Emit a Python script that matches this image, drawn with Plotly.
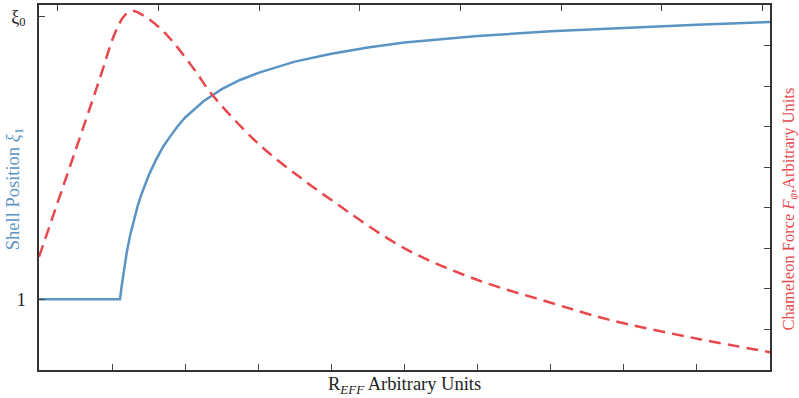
import plotly.graph_objects as go

# Blue curve: shell position (left axis, bottom x axis)
blue_x = [0, 1.108, 1.13, 1.16, 1.2, 1.25, 1.3, 1.35, 1.4, 1.5, 1.6, 1.7, 1.8, 1.9, 2.0, 2.25, 2.5, 2.75, 3.0, 3.5, 4.0, 4.5, 5.0, 6.0, 7.0, 8.0, 9.0, 10.0]
blue_y = [1, 1, 1.18, 1.42, 1.66, 1.92, 2.13, 2.32, 2.48, 2.75, 2.97, 3.16, 3.31, 3.45, 3.57, 3.80, 3.97, 4.10, 4.20, 4.36, 4.47, 4.56, 4.63, 4.72, 4.79, 4.84, 4.88, 4.92]

# Red dashed curve: chameleon force (right axis)
red_x = [0, 0.547, 0.834, 1.04, 1.176, 1.286, 1.42, 1.655, 1.833, 2.16, 2.34, 3.0, 3.57, 4.0, 5.0, 6.0, 7.0, 7.67, 8.18, 9.04, 10.0]
red_y = [2.79, 5.67, 7.20, 8.31, 8.75, 8.85, 8.75, 8.43, 8.09, 7.32, 6.85, 5.58, 4.75, 4.19, 3.00, 2.22, 1.66, 1.30, 1.08, 0.76, 0.44]

x_range = [0, 10]
x_ticks = [1, 2, 3, 4, 5, 6, 7, 8, 9]
top_range = [-0.186, 7.073]
top_ticks = [0, 1, 2, 3, 4, 5, 6, 7]
left_range = [0, 5.16]
left_ticks = [1, 5]
left_labels = ["1", "ξ<sub>0</sub>"]
right_range = [0, 9]
right_ticks = [1, 2, 3, 4, 5, 6, 7, 8]

BLUE = "#5b94c4"
RED = "#e8474c"
AX = "#333333"
FONT = "Liberation Serif"

fig = go.Figure()
fig.add_trace(go.Scatter(x=blue_x, y=blue_y, mode="lines",
                         line=dict(color=BLUE, width=2.5), xaxis="x", yaxis="y",
                         showlegend=False, hoverinfo="skip"))
fig.add_trace(go.Scatter(x=red_x, y=red_y, mode="lines", line_shape="spline",
                         line=dict(color=RED, width=2.5, dash="12px,7px"),
                         xaxis="x", yaxis="y2", showlegend=False, hoverinfo="skip"))
# invisible trace to carry the top axis
fig.add_trace(go.Scatter(x=[top_ticks[0]], y=[left_ticks[0]], mode="markers",
                         marker=dict(opacity=0), xaxis="x2", yaxis="y",
                         showlegend=False, hoverinfo="skip"))

axcommon = dict(showgrid=False, zeroline=False, showline=True, linecolor=AX,
                linewidth=1.5, ticks="inside", ticklen=6, tickcolor="#444", tickwidth=1)

fig.update_layout(
    width=799, height=398,
    margin=dict(l=39, r=29, t=5, b=28),
    plot_bgcolor="white", paper_bgcolor="white",
    font=dict(family=FONT, size=17, color="#222"),
    xaxis=dict(range=x_range, tickvals=x_ticks, showticklabels=False, **axcommon),
    xaxis2=dict(range=top_range, tickvals=top_ticks, showticklabels=False,
                overlaying="x", side="top", **axcommon),
    yaxis=dict(range=left_range, tickvals=left_ticks, ticktext=left_labels,
               tickfont=dict(family=FONT, size=18, color="#222"), ticklabelstandoff=8,
               **axcommon),
    yaxis2=dict(range=right_range, tickvals=right_ticks, showticklabels=False,
                overlaying="y", side="right", **axcommon),
    annotations=[
        dict(text="R<sub><i>EFF</i></sub> Arbitrary Units", xref="paper", yref="paper",
             x=0.5, y=-0.006, xanchor="center", yanchor="top", showarrow=False,
             font=dict(family=FONT, size=18.5, color="#222")),
        dict(text="Shell Position <i>ξ</i><sub>1</sub>", xref="paper", yref="paper",
             x=-0.014, y=0.496, xanchor="right", yanchor="middle", textangle=-90,
             showarrow=False, font=dict(family=FONT, size=18.5, color=BLUE)),
        dict(text="Chameleon Force <i>F</i><sub><i>φ</i></sub>,Arbitrary Units",
             xref="paper", yref="paper", x=1.009, y=0.44, xanchor="left", yanchor="middle",
             textangle=-90, showarrow=False, font=dict(family=FONT, size=16.5, color=RED)),
    ],
)

fig.write_html("out.html", config={"displayModeBar": False},
               post_script="document.body.style.margin='0';")
